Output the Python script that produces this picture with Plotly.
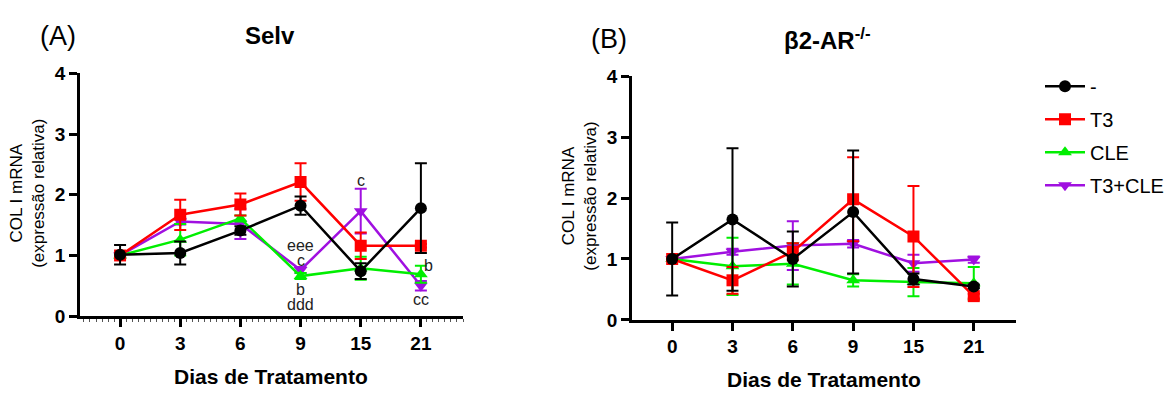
import plotly.graph_objects as go

# Days of treatment (category labels on the x axis)
days = ["0", "3", "6", "9", "15", "21"]
groups = ["-", "T3", "CLE", "T3+CLE"]

# Panel A: Selv  (mean, SEM)
selv_ctrl = [1.01, 1.04, 1.41, 1.82, 0.74, 1.78]
selv_ctrl_err = [0.16, 0.19, 0.07, 0.15, 0.13, 0.74]
selv_t3 = [1.00, 1.67, 1.84, 2.21, 1.16, 1.16]
selv_t3_err = [0.04, 0.25, 0.18, 0.31, 0.22, 0.03]
selv_cle = [1.00, 1.26, 1.61, 0.66, 0.79, 0.69]
selv_cle_err = [0.03, 0.26, 0.05, 0.05, 0.19, 0.14]
selv_t3cle = [1.00, 1.56, 1.52, 0.76, 1.73, 0.50]
selv_t3cle_err = [0.03, 0.05, 0.25, 0.05, 0.37, 0.08]

# Panel B: beta2-AR knockout  (mean, SEM)
ko_ctrl = [1.00, 1.65, 1.00, 1.77, 0.67, 0.55]
ko_ctrl_err = [0.60, 1.17, 0.45, 1.01, 0.09, 0.03]
ko_t3 = [1.00, 0.65, 1.12, 1.98, 1.37, 0.39]
ko_t3_err = [0.03, 0.22, 0.14, 0.69, 0.83, 0.04]
ko_cle = [1.00, 0.88, 0.92, 0.65, 0.62, 0.60]
ko_cle_err = [0.02, 0.47, 0.34, 0.10, 0.23, 0.27]
ko_t3cle = [1.00, 1.12, 1.22, 1.25, 0.93, 0.99]
ko_t3cle_err = [0.02, 0.05, 0.40, 0.06, 0.14, 0.05]

# Significance letters in panel A: (day index, y, text)
sig_x = [3, 3, 3, 3, 4, 5.12, 5]
sig_y = [1.16, 0.92, 0.44, 0.19, 2.24, 0.83, 0.28]
sig_text = ["eee", "c", "b", "ddd", "c", "b", "cc"]

colors = ["#000000", "#FF0000", "#00EE00", "#A010E0"]
symbols = ["circle", "square", "triangle-up", "triangle-down"]
FONT = "Liberation Sans, Arial, sans-serif"

fig = go.Figure()

panels = [
    ("x", "y", [selv_ctrl, selv_t3, selv_cle, selv_t3cle],
     [selv_ctrl_err, selv_t3_err, selv_cle_err, selv_t3cle_err], True),
    ("x2", "y2", [ko_ctrl, ko_t3, ko_cle, ko_t3cle],
     [ko_ctrl_err, ko_t3_err, ko_cle_err, ko_t3cle_err], False),
]

xs = list(range(len(days)))
for xa, ya, series, errs, show in panels:
    # draw last group first so the control line sits on top
    for i in reversed(range(len(groups))):
        fig.add_trace(go.Scatter(
            x=xs, y=series[i], xaxis=xa, yaxis=ya,
            mode="lines+markers", name=groups[i], showlegend=show,
            legendgroup=groups[i], legendrank=i + 1,
            line=dict(color=colors[i], width=2.5),
            marker=dict(symbol=symbols[i], size=12, color=colors[i]),
            error_y=dict(type="data", array=errs[i], visible=True,
                         color=colors[i], thickness=2, width=6),
        ))

axis_common = dict(
    showgrid=False, zeroline=False, showline=True, linecolor="black",
    linewidth=2.5, ticks="outside", ticklen=8, tickwidth=2.5,
    tickcolor="black", tickfont=dict(family=FONT, size=19, color="black",
                                     weight="bold"),
)

xa_common = dict(axis_common, tickvals=xs, ticktext=days, range=[-0.666, 5.7])
ya_common = dict(axis_common, range=[0, 4], tickvals=[0, 1, 2, 3, 4])

H = 401.0
W = 1174.0
fig.update_layout(
    width=1174, height=401,
    margin=dict(l=0, r=0, t=0, b=0),
    paper_bgcolor="white", plot_bgcolor="white",
    font=dict(family=FONT, color="black"),
    xaxis=dict(xa_common, domain=[80 / W, 463 / W], anchor="y",
               minor=dict(ticks="outside", ticklen=3, tickwidth=1,
                          tickcolor="#555", dtick=0.1, tick0=0)),
    yaxis=dict(ya_common, domain=[(H - 323) / H, (H - 67) / H], anchor="x"),
    xaxis2=dict(xa_common, domain=[632 / W, 1016 / W], anchor="y2"),
    yaxis2=dict(ya_common, domain=[(H - 327) / H, (H - 70) / H], anchor="x2"),
    legend=dict(x=1040 / W, y=1 - 60 / H, xanchor="left", yanchor="top",
                traceorder="grouped", tracegroupgap=4,
                font=dict(family=FONT, size=20, color="black"),
                itemwidth=40, bgcolor="rgba(0,0,0,0)"),
)

# Significance letters
for x, y, t in zip(sig_x, sig_y, sig_text):
    fig.add_annotation(x=x, y=y, xref="x", yref="y", text=t, showarrow=False,
                       font=dict(family=FONT, size=16, color="#222"))


def paper_text(px, py, text, size, bold=False, angle=0):
    fig.add_annotation(
        x=px / W, y=1 - py / H, xref="paper", yref="paper", text=text,
        showarrow=False, textangle=angle, xanchor="center", yanchor="middle",
        font=dict(family=FONT, size=size, color="black",
                  weight="bold" if bold else "normal"),
    )


# Panel labels and titles
paper_text(58, 27, "(A)", 27)
paper_text(270, 27, "Selv", 24, bold=True)
paper_text(609, 31, "(B)", 27)
paper_text(827, 31, "β2-AR<sup>-/-</sup>", 24, bold=True)

# Axis titles
paper_text(271, 387, "Dias de Tratamento", 21, bold=True)
paper_text(824, 390, "Dias de Tratamento", 21, bold=True)
paper_text(28, 194, "COL I mRNA<br>(expressão relativa)", 17, angle=-90)
paper_text(580, 197, "COL I mRNA<br>(expressão relativa)", 17, angle=-90)

fig.write_html("out.html")
